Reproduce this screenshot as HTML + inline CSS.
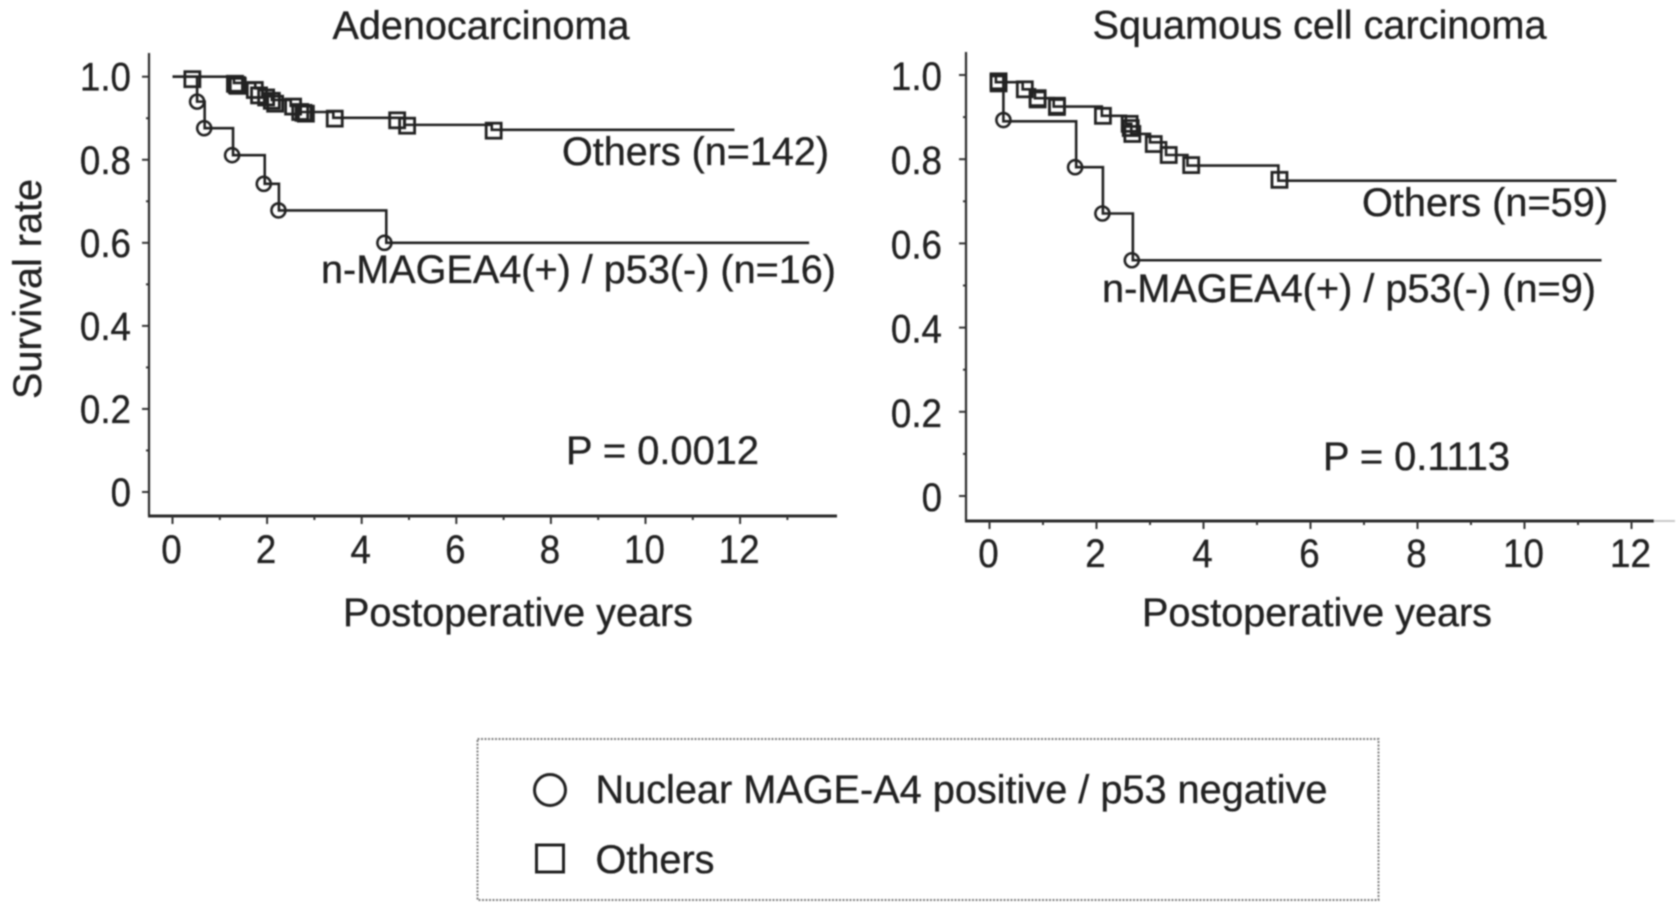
<!DOCTYPE html>
<html lang="en">
<head>
<meta charset="utf-8">
<title>Survival curves</title>
<style>
html,body{margin:0;padding:0;background:#fff;width:1677px;height:917px;overflow:hidden}
svg{display:block}
text{font-family:"Liberation Sans",sans-serif;fill:#222;font-size:39.5px;stroke:#222;stroke-width:.35px}
</style>
</head>
<body>
<svg id="chart" width="1677" height="917" viewBox="0 0 1677 917" xmlns="http://www.w3.org/2000/svg">
<defs><filter id="soft" x="-2%" y="-2%" width="104%" height="104%"><feGaussianBlur stdDeviation="0.8"/></filter></defs>
<rect width="1677" height="917" fill="#fff"/>
<g id="root" filter="url(#soft)">
  <text x="332.5" y="39" textLength="297" lengthAdjust="spacingAndGlyphs">Adenocarcinoma</text>
  <text x="1092.5" y="38.5" textLength="454" lengthAdjust="spacingAndGlyphs">Squamous cell carcinoma</text>
  <text transform="translate(41,399) rotate(-90)" x="0" y="0" textLength="220" lengthAdjust="spacingAndGlyphs">Survival rate</text>
  <text x="343" y="626" textLength="350" lengthAdjust="spacingAndGlyphs">Postoperative years</text>
  <text x="1142" y="626" textLength="350" lengthAdjust="spacingAndGlyphs">Postoperative years</text>
  <text x="562" y="165" textLength="267" lengthAdjust="spacingAndGlyphs">Others (n=142)</text>
  <text x="321" y="283" textLength="515" lengthAdjust="spacingAndGlyphs">n-MAGEA4(+) / p53(-) (n=16)</text>
  <text x="1362" y="216" textLength="246" lengthAdjust="spacingAndGlyphs">Others (n=59)</text>
  <text x="1102" y="302" textLength="494" lengthAdjust="spacingAndGlyphs">n-MAGEA4(+) / p53(-) (n=9)</text>
  <text x="566" y="464" textLength="193" lengthAdjust="spacingAndGlyphs">P = 0.0012</text>
  <text x="1323" y="470" textLength="187" lengthAdjust="spacingAndGlyphs">P = 0.1113</text>
  <g>
    <rect x="477.5" y="739" width="901" height="161" fill="none" stroke="#808080" stroke-width="2" stroke-dasharray="2 1.5"/>
    <circle cx="550" cy="790" r="15.5" fill="none" stroke="#222" stroke-width="3"/>
    <text x="595.5" y="803" textLength="732" lengthAdjust="spacingAndGlyphs">Nuclear MAGE-A4 positive / p53 negative</text>
    <rect x="536.5" y="845" width="27" height="27" fill="none" stroke="#222" stroke-width="3"/>
    <text x="595.5" y="873" textLength="119" lengthAdjust="spacingAndGlyphs">Others</text>
  </g>
</g>
</svg>
<script>
// Tick labels
const yTickValues = [0, 0.2, 0.4, 0.6, 0.8, 1.0];
const yTickLabels = ["0", "0.2", "0.4", "0.6", "0.8", "1.0"];
const yMinorValues = [0.1, 0.3, 0.5, 0.7, 0.9];
const xTickValues = [0, 2, 4, 6, 8, 10, 12];
const xTickLabels = ["0", "2", "4", "6", "8", "10", "12"];
const xMinorLeft = [1, 3, 5, 7, 9, 11, 13];
const xMinorRight = [1, 3, 5, 7, 9, 11];

// Adenocarcinoma: n-MAGEA4(+) / p53(-)
const adenoMageStepYears = [0, 0.52, 0.68, 1.28, 1.95, 2.25, 4.52];
const adenoMageStepSurvival = [1.0, 0.94, 0.876, 0.811, 0.742, 0.678, 0.60];
const adenoMageEndYear = 13.46;
const adenoMageCensorYears = [0.52, 0.67, 1.26, 1.93, 2.24, 4.48];
const adenoMageCensorSurvival = [0.94, 0.876, 0.811, 0.742, 0.678, 0.60];

// Adenocarcinoma: Others
const adenoOtherStepYears = [0, 1.3, 1.75, 1.9, 2.1, 2.5, 2.7, 3.4, 4.9, 6.75];
const adenoOtherStepSurvival = [1.0, 0.985, 0.972, 0.958, 0.944, 0.93, 0.915, 0.901, 0.884, 0.872];
const adenoOtherEndYear = 11.88;
const adenoOtherCensorYears = [0.42, 1.32, 1.36, 1.38, 1.74, 1.83, 1.98, 2.1, 2.17, 2.55, 2.7, 2.77, 2.82, 3.43, 4.75, 4.96, 6.79];
const adenoOtherCensorSurvival = [0.994, 0.983, 0.98, 0.978, 0.968, 0.955, 0.95, 0.942, 0.935, 0.928, 0.915, 0.913, 0.911, 0.899, 0.895, 0.882, 0.87];

// Squamous cell carcinoma: n-MAGEA4(+) / p53(-)
const squamMageStepYears = [0, 0.26, 1.62, 2.12, 2.68];
const squamMageStepSurvival = [1.0, 0.89, 0.781, 0.671, 0.56];
const squamMageEndYear = 11.44;
const squamMageCensorYears = [0.26, 1.6, 2.11, 2.66];
const squamMageCensorSurvival = [0.893, 0.781, 0.671, 0.56];

// Squamous cell carcinoma: Others
const squamOtherStepYears = [0, 0.12, 0.62, 0.85, 1.2, 2.1, 2.55, 2.65, 3.0, 3.3, 3.7, 5.4];
const squamOtherStepSurvival = [1.0, 0.983, 0.966, 0.945, 0.925, 0.903, 0.884, 0.86, 0.84, 0.81, 0.785, 0.749];
const squamOtherEndYear = 11.72;
const squamOtherCensorYears = [0.17, 0.17, 0.66, 0.9, 0.9, 1.26, 1.26, 2.12, 2.62, 2.64, 2.67, 3.07, 3.35, 3.77, 5.42];
const squamOtherCensorSurvival = [0.985, 0.98, 0.966, 0.945, 0.942, 0.927, 0.924, 0.903, 0.884, 0.874, 0.86, 0.836, 0.81, 0.786, 0.751];

const SVGNS = "http://www.w3.org/2000/svg";
const root = document.getElementById("root");
const INK = "#222";

function shape(tag, attrs) {
  const el = document.createElementNS(SVGNS, tag);
  for (const k in attrs) el.setAttribute(k, attrs[k]);
  return el;
}

function narrow(label) {
  label.setAttribute("textLength", (label.getComputedTextLength() * 0.93).toFixed(1));
  label.setAttribute("lengthAdjust", "spacingAndGlyphs");
}

function drawPanel(p) {
  const x = t => p.x0 + t * p.xScale;
  const y = s => p.y0 - s * p.yScale;
  const g = shape("g", {});
  
  
  root.appendChild(g);

  const yAxis = shape("line", {x1: p.axisX, x2: p.axisX, y1: p.axisTop, y2: p.axisY, stroke: "#2a2a2a", "stroke-width": 2.2});
  
  
  g.appendChild(yAxis);

  const xAxis = shape("line", {x1: p.axisX - 1, x2: p.axisEnd, y1: p.axisY, y2: p.axisY, stroke: "#2a2a2a", "stroke-width": 3});
  
  
  g.appendChild(xAxis);

  yTickValues.forEach((v, i) => {
    const tick = shape("line", {x1: p.axisX - 7, x2: p.axisX, y1: y(v), y2: y(v), stroke: "#333", "stroke-width": 2});
    
    
    g.appendChild(tick);
    const label = shape("text", {x: p.yLabelRight, y: y(v) + p.yLabelDrop, "text-anchor": "end"});
    
    
    label.textContent = yTickLabels[i];
    g.appendChild(label);
    narrow(label);
  });
  yMinorValues.forEach(v => {
    const tick = shape("line", {x1: p.axisX - 3, x2: p.axisX, y1: y(v), y2: y(v), stroke: "#333", "stroke-width": 2});
    
    
    g.appendChild(tick);
  });
  xTickValues.forEach((v, i) => {
    const tick = shape("line", {x1: x(v), x2: x(v), y1: p.axisY, y2: p.axisY + 8, stroke: "#333", "stroke-width": 2});
    
    
    g.appendChild(tick);
    const label = shape("text", {x: x(v) - 1, y: p.xLabelY, "text-anchor": "middle"});
    
    
    label.textContent = xTickLabels[i];
    g.appendChild(label);
    narrow(label);
  });
  p.xMinor.forEach(v => {
    const tick = shape("line", {x1: x(v), x2: x(v), y1: p.axisY, y2: p.axisY + 4, stroke: "#333", "stroke-width": 2});
    
    
    g.appendChild(tick);
  });

  p.series.forEach(s => {
    let d = "M" + x(s.years[0]) + " " + y(s.survival[0]);
    for (let i = 1; i < s.years.length; i++) {
      d += "H" + x(s.years[i]) + "V" + y(s.survival[i]);
    }
    d += "H" + x(s.end);
    const curve = shape("path", {d: d, fill: "none", stroke: "#222", "stroke-width": 2.6});
    
    
    g.appendChild(curve);
    s.censorYears.forEach((t, i) => {
      const cx = x(t), cy = y(s.censorSurvival[i]);
      let mark;
      if (s.marker === "circle") {
        mark = shape("circle", {cx: cx, cy: cy, r: 7, fill: "none", stroke: INK, "stroke-width": 2.6});
      } else {
        mark = shape("rect", {x: cx - 7.5, y: cy - 7.5, width: 15, height: 15, fill: "none", stroke: INK, "stroke-width": 2.8});
      }
      
      
      g.appendChild(mark);
    });
  });
}

drawPanel({
  name: "adenocarcinoma", x0: 172.5, xScale: 47.3, y0: 492, yScale: 415.3,
  axisX: 149, axisTop: 53, axisY: 516, axisEnd: 837, yLabelRight: 131, yLabelDrop: 14, xLabelY: 563, xMinor: xMinorLeft,
  series: [
    {name: "others", marker: "square", years: adenoOtherStepYears, survival: adenoOtherStepSurvival, end: adenoOtherEndYear, censorYears: adenoOtherCensorYears, censorSurvival: adenoOtherCensorSurvival},
    {name: "mage", marker: "circle", years: adenoMageStepYears, survival: adenoMageStepSurvival, end: adenoMageEndYear, censorYears: adenoMageCensorYears, censorSurvival: adenoMageCensorSurvival}
  ]
});

drawPanel({
  name: "squamous", x0: 989.5, xScale: 53.5, y0: 496, yScale: 421,
  axisX: 966, axisTop: 52, axisY: 521, axisEnd: 1654, yLabelRight: 942, yLabelDrop: 15, xLabelY: 567, xMinor: xMinorRight,
  series: [
    {name: "others", marker: "square", years: squamOtherStepYears, survival: squamOtherStepSurvival, end: squamOtherEndYear, censorYears: squamOtherCensorYears, censorSurvival: squamOtherCensorSurvival},
    {name: "mage", marker: "circle", years: squamMageStepYears, survival: squamMageStepSurvival, end: squamMageEndYear, censorYears: squamMageCensorYears, censorSurvival: squamMageCensorSurvival}
  ]
});

const axisFade = shape("line", {x1: 1654, x2: 1675, y1: 521, y2: 521, stroke: "#c8c8c8", "stroke-width": 2});


root.appendChild(axisFade);
</script>
</body>
</html>
